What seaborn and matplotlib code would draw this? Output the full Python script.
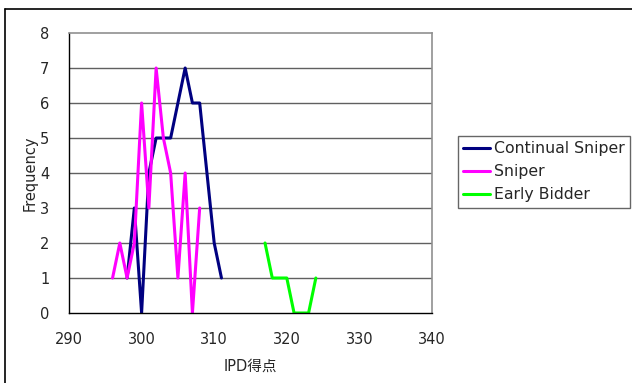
import matplotlib
matplotlib.use("Agg")
import matplotlib.pyplot as plt
import matplotlib.lines as mlines
import seaborn as sns
import pandas as pd

cs_x = [298, 299, 300, 301, 302, 303, 304, 305, 306, 307, 308, 309, 310, 311]
cs_y = [1, 3, 0, 4, 5, 5, 5, 6, 7, 6, 6, 4, 2, 1]
sn_x = [296, 297, 298, 299, 300, 301, 302, 303, 304, 305, 306, 307, 308]
sn_y = [1, 2, 1, 2, 6, 3, 7, 5, 4, 1, 4, 0, 3]
eb_x = [317, 318, 319, 320, 321, 322, 323, 324]
eb_y = [2, 1, 1, 1, 0, 0, 0, 1]
series_names = ["Continual Sniper", "Sniper", "Early Bidder"]
colors = ["#000080", "#FF00FF", "#00FF00"]
x_ticks = [290, 300, 310, 320, 330, 340]
y_ticks = [0, 1, 2, 3, 4, 5, 6, 7, 8]

sns.set_style("white")
plt.rcParams['font.family'] = ['DejaVu Sans', 'Noto Sans CJK JP']

df = pd.concat([
    pd.DataFrame({"x": cs_x, "y": cs_y, "s": series_names[0]}),
    pd.DataFrame({"x": sn_x, "y": sn_y, "s": series_names[1]}),
    pd.DataFrame({"x": eb_x, "y": eb_y, "s": series_names[2]}),
])

fig = plt.figure(figsize=(6.32, 3.83), dpi=100)
ax = fig.add_axes([69/632, 1 - 313/383, (432-69)/632, (313-33)/383])

for yv in y_ticks[1:-1]:
    ax.axhline(yv, color="#606060", lw=1.0, zorder=0)

sns.lineplot(data=df, x="x", y="y", hue="s", palette=dict(zip(series_names, colors)),
             ax=ax, lw=2.2, estimator=None, sort=False, legend=True)

ax.set_xlim(290, 340)
ax.set_ylim(0, 8)
ax.set_xticks(x_ticks)
ax.set_yticks(y_ticks)
ax.tick_params(axis="x", direction="in", length=4, width=1, labelsize=10.5, pad=14, color="black")
ax.tick_params(axis="y", length=0, labelsize=10.5, pad=14)
for s in ["top", "right"]:
    ax.spines[s].set_color("#909090")
    ax.spines[s].set_linewidth(1.2)
for s in ["left", "bottom"]:
    ax.spines[s].set_color("black")
    ax.spines[s].set_linewidth(1.0)
ax.set_xlabel("IPD得点", fontsize=10.5, labelpad=8)
ax.set_ylabel("Frequency", fontsize=10.5, labelpad=2)

leg = ax.legend(loc="upper left", bbox_to_anchor=(458/632, 1 - 136/383), bbox_transform=fig.transFigure,
                frameon=True, fancybox=False, fontsize=11.3, handlelength=1.7, handletextpad=0.25,
                borderpad=0.35, labelspacing=0.5, borderaxespad=0)
leg.get_frame().set_edgecolor("#404040")
leg.get_frame().set_linewidth(1.0)
for h in leg.get_lines():
    h.set_linewidth(2.2)

fig.add_artist(mlines.Line2D([5/632, 5/632], [0, 1 - 9/383], transform=fig.transFigure, color="black", lw=1.2))
fig.add_artist(mlines.Line2D([5/632, 1], [1 - 9/383, 1 - 9/383], transform=fig.transFigure, color="black", lw=1.2))
fig.savefig("out.png", dpi=100)
